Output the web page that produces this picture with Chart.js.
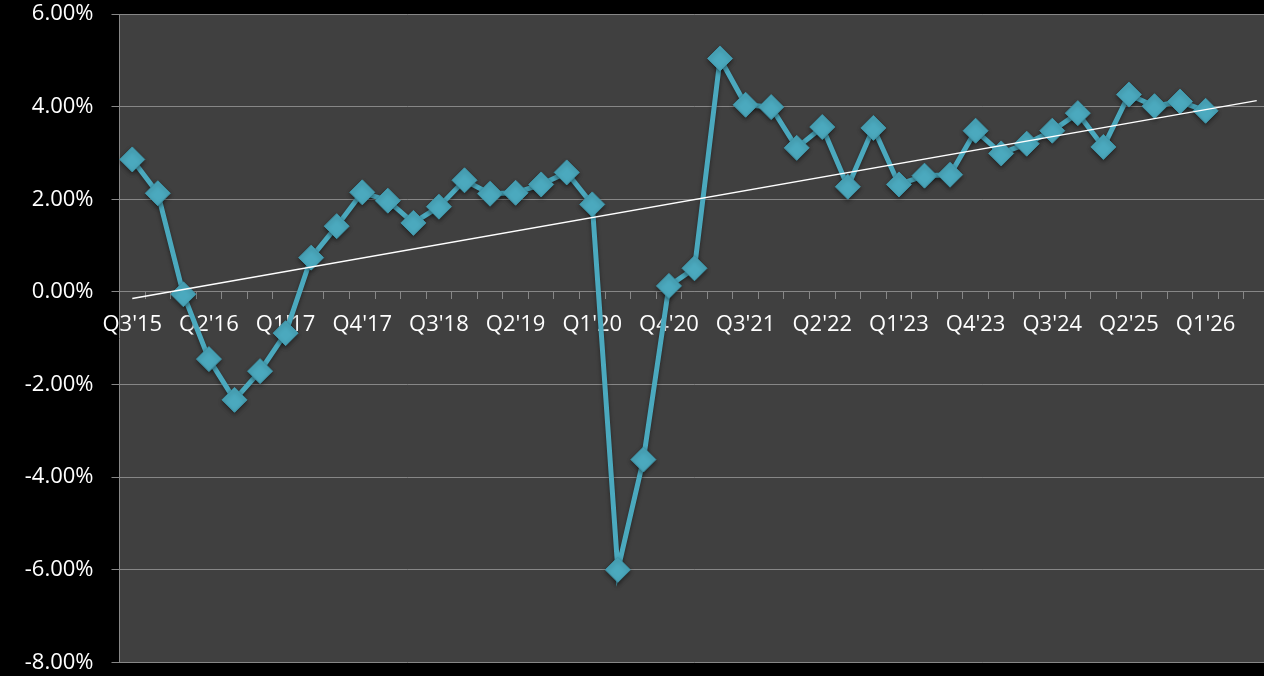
<!DOCTYPE html>
<html>
<head>
<meta charset="utf-8">
<script src="https://cdn.jsdelivr.net/npm/chart.js@4/dist/chart.umd.min.js"></script>
<style>
  html, body { margin: 0; padding: 0; background: #000; overflow: hidden; }
  canvas { display: block; }
</style>
</head>
<body>
<!-- canvas is a little wider than the window: the plot runs off the right edge like the original -->
<canvas id="myChart" width="1283" height="676"></canvas>
<script>
// quarters on the category axis (last two have no data yet)
const quarters = [
  "Q3'15","Q4'15",
  "Q1'16","Q2'16","Q3'16","Q4'16",
  "Q1'17","Q2'17","Q3'17","Q4'17",
  "Q1'18","Q2'18","Q3'18","Q4'18",
  "Q1'19","Q2'19","Q3'19","Q4'19",
  "Q1'20","Q2'20","Q3'20","Q4'20",
  "Q1'21","Q2'21","Q3'21","Q4'21",
  "Q1'22","Q2'22","Q3'22","Q4'22",
  "Q1'23","Q2'23","Q3'23","Q4'23",
  "Q1'24","Q2'24","Q3'24","Q4'24",
  "Q1'25","Q2'25","Q3'25","Q4'25",
  "Q1'26","Q2'26","Q3'26"
];

// growth rate, percent
const growth = [
  2.86, 2.13, -0.05, -1.45, -2.33, -1.71, -0.89, 0.74, 1.42, 2.15, 1.97, 1.49,
  1.84, 2.41, 2.12, 2.14, 2.32, 2.58, 1.89,
  -6.00, -3.62, 0.13, 0.51, 5.04,
  4.04, 3.99, 3.11, 3.56, 2.27, 3.54, 2.32, 2.51, 2.53, 3.48, 2.99,
  3.20, 3.48, 3.86, 3.13, 4.26, 4.01, 4.11, 3.91
];

// linear trend line, start and end values
const trendStart = -0.14;
const trendEnd = 4.13;

// y axis ticks
const yTicks = [-8, -6, -4, -2, 0, 2, 4, 6];
const labelEvery = 3;

const trend = new Array(quarters.length).fill(null);
trend[0] = trendStart;
trend[quarters.length - 1] = trendEnd;

const lineColor = '#4BA9BE';
const gridColor = '#878787';

const bgPlugin = {
  id: 'bg',
  beforeDraw(chart) {
    const { ctx, chartArea: a } = chart;
    ctx.save();
    ctx.fillStyle = '#000';
    ctx.fillRect(0, 0, chart.width, chart.height);
    ctx.fillStyle = '#404040';
    ctx.fillRect(a.left, a.top, a.right - a.left, a.bottom - a.top);
    ctx.restore();
  },
  beforeDatasetDraw(chart, args) {
    if (args.index === 1) {
      const ctx = chart.ctx;
      ctx.save();
      ctx.shadowColor = 'rgba(0,0,0,0.45)';
      ctx.shadowBlur = 4;
      ctx.shadowOffsetY = 2;
    }
  },
  afterDatasetDraw(chart, args) {
    if (args.index === 1) chart.ctx.restore();
  }
};

let ctx = document.getElementById('myChart');

const chart = new Chart(ctx, {
  type: 'line',
  data: {
    labels: quarters,
    datasets: [
      {
        data: trend,
        borderColor: '#ffffff',
        borderWidth: 1.5,
        pointRadius: 0,
        spanGaps: true,
        tension: 0
      },
      {
        data: growth,
        borderColor: lineColor,
        borderWidth: 5,
        pointStyle: 'rectRot',
        pointRadius: 12.5,
        pointBackgroundColor: lineColor,
        pointBorderColor: '#3f97ab',
        pointBorderWidth: 1,
        tension: 0
      }
    ]
  },
  plugins: [bgPlugin],
  options: {
    responsive: false,
    animation: false,
    layout: { padding: { top: 14, bottom: 12, left: 0, right: 0 } },
    plugins: {
      legend: { display: false },
      tooltip: { enabled: false }
    },
    scales: {
      x: {
        position: { y: 0 },
        offset: true,
        grid: {
          offset: true,
          drawOnChartArea: false,
          drawTicks: true,
          tickLength: 7,
          color: gridColor
        },
        border: { display: true, color: gridColor, width: 1 },
        ticks: {
          autoSkip: false,
          maxRotation: 0,
          color: '#ffffff',
          padding: 13,
          font: { family: '"Open Sans"', size: 22 },
          callback: function (v, i) {
            return i % labelEvery === 0 ? quarters[i] : '';
          }
        }
      },
      y: {
        min: yTicks[0],
        max: yTicks[yTicks.length - 1],
        afterBuildTicks: function (scale) {
          scale.ticks = yTicks.map(v => ({ value: v }));
        },
        afterFit: function (scale) {
          scale.width = 119.5;
          scale.paddingTop = 0;
          scale.paddingBottom = 0;
        },
        grid: {
          color: gridColor,
          tickLength: 8,
          drawTicks: true
        },
        border: { display: true, color: gridColor, width: 1 },
        ticks: {
          color: '#ffffff',
          padding: 18,
          font: { family: '"Open Sans"', size: 22, lineHeight: 1 },
          callback: function (v) {
            return v.toFixed(2) + '%';
          }
        }
      }
    }
  }
});
</script>
</body>
</html>
